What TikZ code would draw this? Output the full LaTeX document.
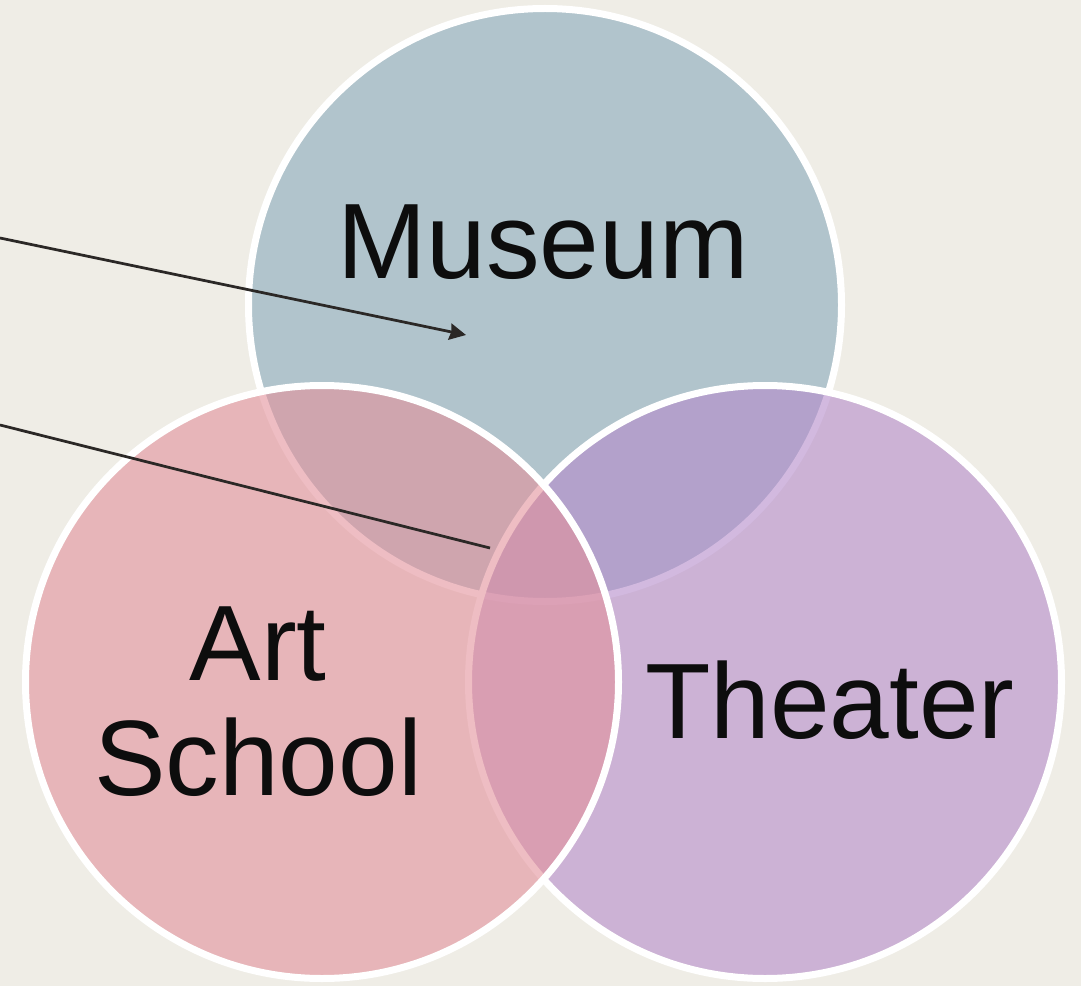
\documentclass[tikz,border=0pt]{standalone}
\usepackage{fontspec}
\setmainfont{Liberation Sans}
\usetikzlibrary{arrows.meta,positioning}
\definecolor{hintergrund}{RGB}{239,237,230}
\definecolor{museumblau}{RGB}{136,170,187}
\definecolor{kunstrosa}{RGB}{227,145,155}
\definecolor{theaterlila}{RGB}{181,139,203}
\tikzset{
    >={Stealth[length=0.33cm,width=0.33cm,inset=0.03cm]},
    kreis/.style={
           circle,
           draw=white, line width=0.14cm,
           fill opacity=0.6, draw opacity=1,
           minimum size=11.86cm,
           inner sep=0pt},
    etikett/.style={
           font=\fontsize{61}{65}\selectfont,
           text=black!95,
           align=center},
    pil/.style={
           line width=0.055cm,
           draw=black!92!olive}
}

\begin{document}
\begin{tikzpicture}
        \fill[hintergrund] (0,0) rectangle (21.62,-19.72);
        \useasboundingbox (0,0) rectangle (21.62,-19.72);

        \node[kreis, fill=museumblau] (museum) at (10.9,-6.1) {};
        \node[kreis, fill=theaterlila] (theater) at (15.3,-13.64) {};
        \node[kreis, fill=kunstrosa] (kunst) at (6.44,-13.64) {};

        \node[etikett, anchor=base] (museumtext) at (10.86,-5.57) {Museum};
        \node[etikett, anchor=base] (kunsttext) at (5.16,-15.9) {Art\\School};
        \node[etikett, anchor=base] (theatertext) at (16.6,-14.76) {Theater};

        \coordinate (p1a) at (0,-4.76);
        \coordinate (p1b) at (9.32,-6.7);
        \coordinate (p2a) at (0,-8.5);
        \coordinate (p2b) at (9.8,-10.96);

        \draw[pil, ->] (p1a) -- (p1b);
        \draw[pil] (p2a) -- (p2b);
    \end{tikzpicture}
\end{document}
